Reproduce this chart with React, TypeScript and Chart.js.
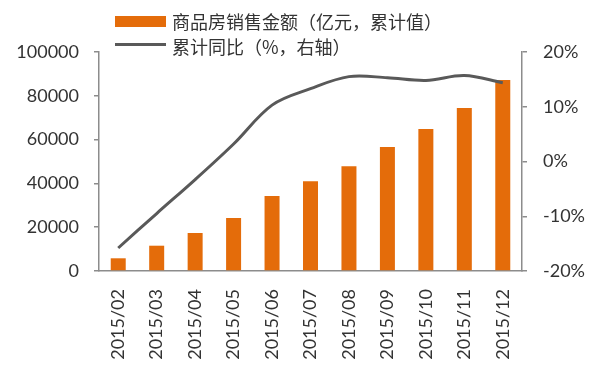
import React, { useEffect, useRef } from "react";
import { Chart, registerables } from "chart.js";

Chart.register(...registerables);

const categories = ["2015/02", "2015/03", "2015/04", "2015/05", "2015/06", "2015/07", "2015/08", "2015/09", "2015/10", "2015/11", "2015/12"];
const salesValues = [5800, 11550, 17350, 24200, 34200, 41000, 47800, 56600, 64800, 74400, 87200];
const yoyValues = [-15.8, -9.5, -3.3, 3.2, 10.3, 13.3, 15.5, 15.3, 14.8, 15.7, 14.4];
const legendLabels = ["商品房销售金额（亿元，累计值）", "累计同比（%，右轴）"];

const ORANGE = "#E46C0A";
const GREY = "#595959";
const TEXT = "#333333";
const AXIS = "#8C8C8C";
const TICK_FONT = { family: "Lato, 'DejaVu Sans', sans-serif", size: 18 };

export default function App() {
  const ref = useRef<HTMLCanvasElement | null>(null);
  useEffect(() => {
    if (!ref.current) return;
    const chart = new Chart(ref.current, {
      data: {
        labels: categories,
        datasets: [
          {
            type: "line",
            label: legendLabels[1],
            data: yoyValues,
            yAxisID: "y1",
            borderColor: GREY,
            borderWidth: 3,
            pointRadius: 0,
            tension: 0.35,
            order: 0,
          },
          {
            type: "bar",
            label: legendLabels[0],
            data: salesValues,
            yAxisID: "y",
            backgroundColor: ORANGE,
            barPercentage: 0.39,
            categoryPercentage: 1,
            order: 1,
          },
        ],
      },
      options: {
        responsive: false,
        animation: false,
        layout: { padding: { top: 52, left: 0, right: 0, bottom: 0 } },
        plugins: { legend: { display: false }, tooltip: { enabled: false } },
        scales: {
          x: {
            grid: { display: false },
            border: { display: true, color: AXIS, width: 1.5 },
            ticks: { color: TEXT, font: TICK_FONT, minRotation: 90, maxRotation: 90, padding: 10 },
            afterFit: (s: any) => { s.height = 99; },
          },
          y: {
            position: "left",
            min: 0,
            max: 100000,
            grid: { drawOnChartArea: false, tickLength: 5, color: AXIS, lineWidth: 1.5 },
            border: { display: true, color: AXIS, width: 1.5 },
            ticks: { stepSize: 20000, color: TEXT, font: TICK_FONT, padding: 15, callback: (v: any) => String(v) },
            afterFit: (s: any) => { s.width = 99; },
          },
          y1: {
            position: "right",
            min: -20,
            max: 20,
            grid: { drawOnChartArea: false, tickLength: 5, color: AXIS, lineWidth: 1.5 },
            border: { display: true, color: AXIS, width: 1.5 },
            ticks: { stepSize: 10, color: TEXT, font: TICK_FONT, padding: 16, callback: (v: any) => v + "%" },
            afterFit: (s: any) => { s.width = 73; },
          },
        },
      },
    } as any);
    return () => chart.destroy();
  }, []);

  const legendText: React.CSSProperties = {
    position: "absolute",
    left: 172,
    fontFamily: "'Noto Sans CJK SC', sans-serif",
    fontSize: 18,
    color: TEXT,
    whiteSpace: "nowrap",
    lineHeight: "20px",
  };

  return (
    <div style={{ position: "absolute", left: 0, top: 0, width: 595, height: 370, background: "#fff" }}>
      <canvas ref={ref} width={595} height={370} style={{ display: "block" }} />
      <div style={{ position: "absolute", left: 115, top: 16, width: 51, height: 11, background: ORANGE }} />
      <div style={{ ...legendText, top: 11 }}>{legendLabels[0]}</div>
      <div style={{ position: "absolute", left: 115, top: 43, width: 51, height: 3, background: GREY }} />
      <div style={{ ...legendText, top: 36 }}>{legendLabels[1]}</div>
    </div>
  );
}
